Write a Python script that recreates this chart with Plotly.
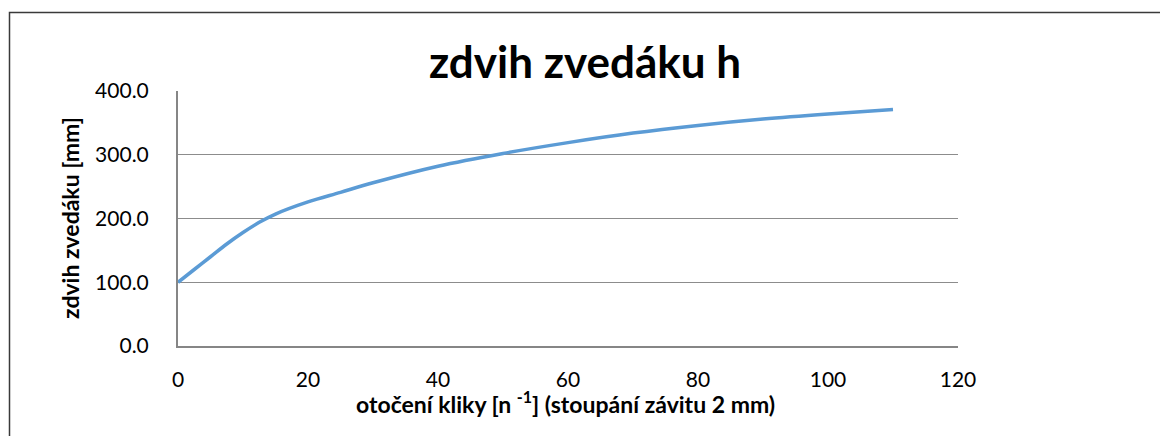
import plotly.graph_objects as go

# otočení kliky (turns) vs. zdvih zvedáku (mm)
otoceni = [0, 2.5, 5, 7.5, 10, 12.5, 15, 20, 25, 30, 40, 50, 60, 70, 80, 90, 100, 110]
zdvih = [100, 120, 140, 160, 178, 194, 207, 226, 241, 256, 282, 302, 319, 334, 346, 356, 364, 371]

y_ticks = [0, 100, 200, 300, 400]
x_ticks = [0, 20, 40, 60, 80, 100, 120]

font_name = "Lato, 'Open Sans', sans-serif"

fig = go.Figure()
fig.add_trace(go.Scatter(x=otoceni, y=zdvih, mode="lines",
                         line=dict(color="#5b9bd5", width=3.5, shape="spline", smoothing=1.0),
                         showlegend=False, hoverinfo="x+y"))

W, H = 1160, 436
L, R, T, B = 178, 202, 91, 90
pw, ph = W - L - R, H - T - B


def px(x):
    return (x - L) / pw


def py(y):
    return (H - B - y) / ph


fig.update_layout(
    width=W, height=H,
    margin=dict(l=L, r=R, t=T, b=B),
    paper_bgcolor="white", plot_bgcolor="white",
    font=dict(family=font_name, size=21, color="#000000"),
    title=dict(text="<b>zdvih zvedáku h</b>", x=px(585), xref="paper", xanchor="center",
               y=1 - 63 / H, yanchor="middle", font=dict(size=44, color="#000000")),
    xaxis=dict(range=[0, 120], tickvals=x_ticks, ticktext=[str(v) for v in x_ticks],
               showgrid=False, zeroline=False, showline=True, linecolor="#868686", linewidth=2,
               ticks="", ticklabelstandoff=14, tickfont=dict(size=21)),
    yaxis=dict(range=[0, 400], tickvals=y_ticks, ticktext=["%.1f" % v for v in y_ticks],
               showgrid=True, gridcolor="#8c8c8c", gridwidth=1, zeroline=False,
               showline=True, linecolor="#868686", linewidth=2,
               ticks="", ticklabelstandoff=23, tickfont=dict(size=21)),
    annotations=[
        dict(text="<b>otočení kliky [n <sup>-1</sup>] (stoupání závitu 2 mm)</b>",
             xref="paper", yref="paper", x=px(565), y=py(402), xanchor="center", yanchor="middle",
             showarrow=False, font=dict(size=23)),
        dict(text="<b>zdvih zvedáku [mm]</b>", textangle=-90,
             xref="paper", yref="paper", x=px(70), y=py(218), xanchor="center", yanchor="middle",
             showarrow=False, font=dict(size=23)),
    ],
    shapes=[dict(type="rect", xref="paper", yref="paper",
                 x0=px(9.5), x1=px(1175), y0=py(460), y1=py(12.5),
                 line=dict(color="#3a3a3a", width=1.5), layer="below")],
)

fig.write_html("out.html", config={"displayModeBar": False},
               post_script="document.body.style.margin='0';")
